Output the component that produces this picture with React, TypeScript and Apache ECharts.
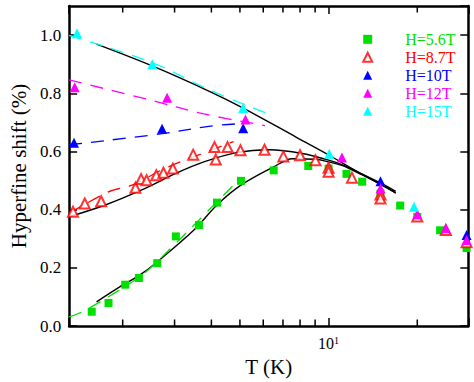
import React, { useEffect, useRef } from 'react';
import * as echarts from 'echarts';

const FONT = "'Liberation Serif', 'Times New Roman', serif";

// Axis ranges and tick values
const X_MIN = 1.316;
const X_MAX = 29.8;
const Y_MIN = 0;
const Y_MAX = 1.1;
const Y_INTERVAL = 0.2;
const MINOR_X_TICKS = [2, 3, 4, 5, 6, 7, 8, 9, 20];

// Measured data (T in K, shift in %)
const T_56 = [1.57, 1.79, 2.04, 2.27, 2.62, 3.03, 3.63, 4.18, 5.04, 6.51, 8.53, 10.0, 11.5, 13.0, 15.0, 17.5, 20.0, 23.9, 29.4];
const V_56 = [0.049, 0.079, 0.142, 0.165, 0.216, 0.308, 0.347, 0.424, 0.499, 0.535, 0.55, 0.541, 0.523, 0.496, 0.455, 0.414, 0.375, 0.329, 0.268];

const T_87 = [1.356, 1.487, 1.69, 2.21, 2.31, 2.41, 2.6, 2.75, 2.96, 3.47, 4.1, 4.14, 4.54, 5.02, 6.06, 7.02, 8.0, 9.02, 10.0, 10.0, 12.0, 15.0, 15.0, 20.0, 25.0, 29.4];
const V_87 = [0.393, 0.421, 0.429, 0.475, 0.505, 0.501, 0.518, 0.527, 0.541, 0.589, 0.615, 0.572, 0.615, 0.604, 0.606, 0.583, 0.587, 0.57, 0.544, 0.53, 0.51, 0.452, 0.438, 0.376, 0.33, 0.288];

const T_10 = [1.367, 2.72, 5.13, 15.0, 29.4];
const V_10 = [0.63, 0.678, 0.68, 0.498, 0.313];

const T_12 = [1.374, 2.83, 5.22, 11.1, 15.0, 20.0, 25.0, 29.4];
const V_12 = [0.821, 0.785, 0.71, 0.579, 0.473, 0.384, 0.336, 0.296];

const T_15 = [1.4, 2.52, 5.13, 10.05, 19.5];
const V_15 = [1.006, 0.9, 0.749, 0.592, 0.41];

// Solid black fits
const FIT56_T = [1.63, 2.01, 2.27, 2.63, 3.49, 4.18, 5.04, 6.51, 7.54, 9.02, 10.0, 11.1, 12.9, 15.1, 16.9];
const FIT56_V = [0.083, 0.142, 0.173, 0.222, 0.33, 0.416, 0.484, 0.547, 0.575, 0.573, 0.564, 0.552, 0.521, 0.487, 0.457];

const FIT87_T = [1.32, 1.745, 2.31, 3.07, 3.77, 4.87, 6.3, 8.14, 10.0, 11.08, 12.9, 15.1, 16.9];
const FIT87_V = [0.376, 0.416, 0.467, 0.527, 0.564, 0.596, 0.606, 0.593, 0.57, 0.555, 0.524, 0.49, 0.4625];

const FIT15_T = [1.63, 2.52, 3.97, 5.13, 7.83, 10.05, 12.3, 16.9];
const FIT15_V = [0.969, 0.894, 0.805, 0.749, 0.647, 0.587, 0.535, 0.458];

// Dashed colored curves
const D56_T = [1.316, 1.459, 1.88, 2.37, 2.99, 3.97, 5.01];
const D56_V = [0.031, 0.049, 0.114, 0.182, 0.279, 0.404, 0.507];

const D87_T = [1.316, 1.79, 2.15, 2.77, 3.47, 4.76];
const D87_V = [0.387, 0.461, 0.484, 0.541, 0.581, 0.634];

const D10_T = [1.316, 2.72, 3.97, 4.9];
const D10_V = [0.623, 0.661, 0.687, 0.695];

const D12_T = [1.316, 2.52, 3.77, 6.08];
const D12_V = [0.846, 0.775, 0.729, 0.689];

const D15_T = [1.316, 2.52, 3.97, 6.1];
const D15_V = [0.999, 0.905, 0.81, 0.733];

const NAMES = ['H=5.6T', 'H=8.7T', 'H=10T', 'H=12T', 'H=15T'];
const COLORS = ['#00e000', '#ff0000', '#0000ff', '#ff00ff', '#00ffff'];

const pairs = (xs: number[], ys: number[]) => xs.map((x, i) => [x, ys[i]]);

export default function App() {
  const ref = useRef<HTMLDivElement>(null);
  useEffect(() => {
    const chart = echarts.init(ref.current!, null, { renderer: 'svg' });
    const axisLine = { show: true, onZero: false, lineStyle: { color: '#000', width: 2.5 } };
    const tickStyle = { color: '#000', width: 1.5 };

    const xBase = {
      type: 'log',
      logBase: 10,
      min: X_MIN,
      max: X_MAX,
      axisLine,
      splitLine: { show: false },
      axisTick: { show: true, inside: true, length: 8, lineStyle: tickStyle },
    };
    const yBase = {
      type: 'value',
      min: Y_MIN,
      max: Y_MAX,
      interval: Y_INTERVAL,
      axisLine,
      splitLine: { show: false },
      axisTick: { show: true, inside: true, length: 8, lineStyle: tickStyle },
    };

    const fitLine = (xs: number[], ys: number[]) => ({
      type: 'line',
      data: pairs(xs, ys),
      smooth: 0.35,
      showSymbol: false,
      symbol: 'none',
      silent: true,
      lineStyle: { color: '#000', width: 1.4 },
      z: 2,
    });
    const dashLine = (xs: number[], ys: number[], color: string) => ({
      type: 'line',
      data: pairs(xs, ys),
      smooth: 0.35,
      showSymbol: false,
      symbol: 'none',
      silent: true,
      lineStyle: { color, width: 1.3, type: [13, 9] },
      z: 2,
    });

    const scatter = (name: string, xs: number[], ys: number[], color: string, symbol: string, size: number) => ({
      type: 'scatter',
      name,
      data: pairs(xs, ys),
      symbol,
      symbolSize: size,
      itemStyle: symbol.startsWith('empty')
        ? { color, borderColor: color, borderWidth: 1.1 }
        : { color, opacity: 1 },
      z: 3,
    });

    chart.setOption({
      animation: false,
      backgroundColor: '#fff',
      grid: { left: 63.3, right: 5.7, top: 6, bottom: 53.7, containLabel: false },
      textStyle: { fontFamily: FONT },
      xAxis: [
        {
          ...xBase,
          position: 'bottom',
          name: 'T (K)',
          nameLocation: 'middle',
          nameGap: 30,
          nameTextStyle: { fontFamily: FONT, fontSize: 21, color: '#000' },
          axisLabel: {
            margin: 9,
            color: '#000',
            fontFamily: FONT,
            formatter: (v: number) => (Math.abs(v - 10) < 1e-6 ? '{b|10}{s|1}' : ''),
            rich: {
              b: { fontSize: 16, fontFamily: FONT, color: '#000', verticalAlign: 'bottom', lineHeight: 16 },
              s: { fontSize: 10, fontFamily: FONT, color: '#000', verticalAlign: 'top', lineHeight: 16 },
            },
          },
        },
        {
          ...xBase,
          position: 'top',
          axisLabel: { show: false },
        },
      ],
      yAxis: [
        {
          ...yBase,
          position: 'left',
          name: 'Hyperfine shift (%)',
          nameLocation: 'middle',
          nameGap: 34,
          nameRotate: 90,
          nameTextStyle: { fontFamily: FONT, fontSize: 21, color: '#000' },
          axisLabel: {
            margin: 8,
            color: '#000',
            fontFamily: FONT,
            fontSize: 17,
            showMaxLabel: false,
            formatter: (v: number) => v.toFixed(1),
          },
        },
        {
          ...yBase,
          position: 'right',
          axisLabel: { show: false },
        },
      ],
      legend: {
        orient: 'vertical',
        left: 357.2,
        top: 26.3,
        itemWidth: 9,
        itemHeight: 9,
        itemGap: 2,
        selectedMode: false,
        formatter: (name: string) => '{g| }' + name,
        textStyle: {
          fontFamily: FONT,
          fontSize: 16,
          lineHeight: 16,
          rich: { g: { width: 28 } },
        },
        data: NAMES.map((n, i) => ({ name: n, textStyle: { color: COLORS[i] } })),
      },
      series: [
        {
          type: 'custom',
          silent: true,
          clip: false,
          data: MINOR_X_TICKS.map((t) => [t, Y_MIN]),
          z: 5,
          renderItem: (_params: any, api: any) => {
            const x = api.value(0);
            const b = api.coord([x, Y_MIN]);
            const t = api.coord([x, Y_MAX]);
            const st = { stroke: '#000', lineWidth: 1.5 };
            return {
              type: 'group',
              children: [
                { type: 'line', shape: { x1: b[0], y1: b[1], x2: b[0], y2: b[1] - 6.5 }, style: st },
                { type: 'line', shape: { x1: t[0], y1: t[1], x2: t[0], y2: t[1] + 6.5 }, style: st },
              ],
            };
          },
        },
        fitLine(FIT56_T, FIT56_V),
        fitLine(FIT87_T, FIT87_V),
        fitLine(FIT15_T, FIT15_V),
        dashLine(D56_T, D56_V, COLORS[0]),
        dashLine(D87_T, D87_V, COLORS[1]),
        dashLine(D10_T, D10_V, COLORS[2]),
        dashLine(D12_T, D12_V, COLORS[3]),
        dashLine(D15_T, D15_V, COLORS[4]),
        scatter(NAMES[0], T_56, V_56, COLORS[0], 'rect', 8),
        scatter(NAMES[1], T_87, V_87, COLORS[1], 'emptyTriangle', 10),
        scatter(NAMES[2], T_10, V_10, COLORS[2], 'triangle', 10),
        scatter(NAMES[3], T_12, V_12, COLORS[3], 'triangle', 10),
        scatter(NAMES[4], T_15, V_15, COLORS[4], 'triangle', 10),
      ],
    });
    return () => chart.dispose();
  }, []);
  return <div ref={ref} style={{ position: 'absolute', left: 0, top: 0, width: 474, height: 382 }} />;
}
